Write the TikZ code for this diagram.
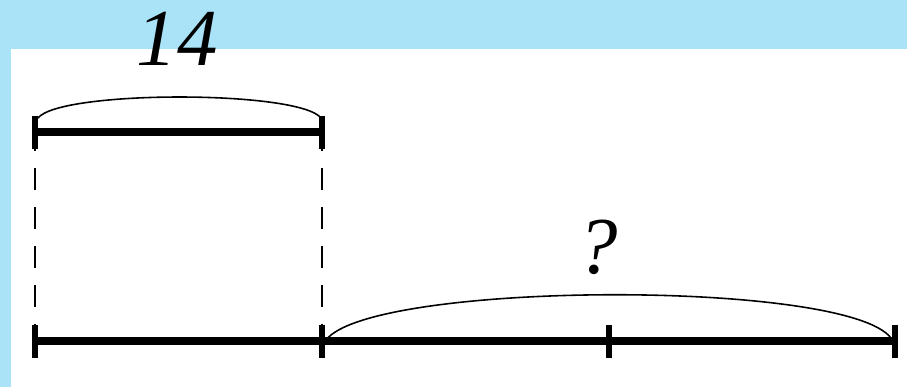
\documentclass[tikz,border=0pt]{standalone}
\usepackage{fontspec}
\setmainfont{Liberation Serif}
\usetikzlibrary{positioning}
\definecolor{framecolor}{RGB}{170,227,248}

\begin{document}
\begin{tikzpicture}[
    x=0.02cm, y=-0.02cm,
    segment/.style={line width=4pt},
    tickmark/.style={line width=3.4pt},
    guide/.style={line width=1.4pt, dash pattern=on 12.5pt off 9.6pt, dash phase=10.8pt},
    brace/.style={line width=0.9pt},
    amount/.style={font=\fontsize{46}{50}\selectfont\itshape, anchor=base, inner sep=0pt}
]

    % Frame
    \useasboundingbox (0,0) rectangle (907,387);
    \fill[framecolor] (0,0) rectangle (907,387);
    \fill[white] (11,49) rectangle (907,387);

    % Upper segment
    \coordinate (t0) at (35,132);
    \coordinate (t1) at (322,132);
    \draw[segment] (t0) -- (t1);

    % Lower segment, three parts
    \coordinate (b0) at (35,341);
    \coordinate (b1) at (322,341);
    \coordinate (b2) at (609,341);
    \coordinate (b3) at (895,341);
    \draw[segment] (b0) -- (b3);

    % Ticks
    \foreach \p in {t0, t1, b0, b1, b2, b3}
        \draw[tickmark] (\p) ++(0,-16.5) -- ++(0,33);

    % Guides
    \draw[guide] ([yshift=-16.5*0.02cm]t0) -- ([yshift=16.5*0.02cm]b0);
    \draw[guide] ([yshift=-16.5*0.02cm]t1) -- ([yshift=16.5*0.02cm]b1);

    % Braces
    \draw[brace] ([shift={(3,-14)}]t0) .. controls +(22,-28) and +(-22,-28) .. ([shift={(-1,-14)}]t1);
    \draw[brace] ([shift={(4,-1)}]b1) .. controls +(45,-59) and +(-45,-59) .. ([shift={(-4,-3)}]b3);

    % Labels
    \node[amount] (whole) at (177,65) {14};
    \node[amount] (unknown) at (598,273) {?};

\end{tikzpicture}
\end{document}
